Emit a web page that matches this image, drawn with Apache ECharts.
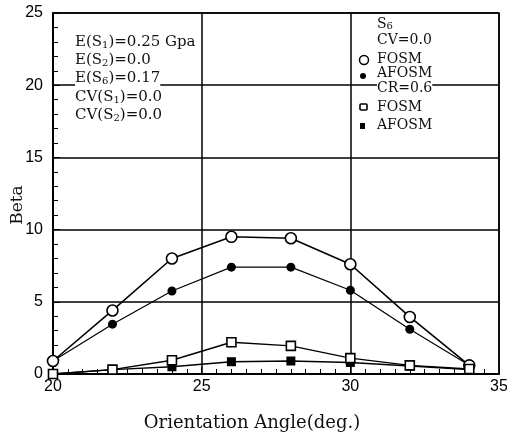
<!DOCTYPE html>
<html><head><meta charset="utf-8">
<script src="https://cdn.jsdelivr.net/npm/echarts@6/dist/echarts.min.js"></script>
<style>html,body{margin:0;padding:0;background:#fff}#c{width:507px;height:435px}</style>
</head><body><div id="c"></div>
<script>
const angles = [20, 22, 24, 26, 28, 30, 32, 34];
const fosmCV0 = [0.9, 4.4, 8.0, 9.5, 9.4, 7.6, 3.95, 0.6];
const afosmCV0 = [0.9, 3.45, 5.75, 7.4, 7.4, 5.8, 3.1, 0.6];
const fosmCR06 = [0.0, 0.3, 0.95, 2.2, 1.95, 1.1, 0.6, 0.35];
const afosmCR06 = [0.0, 0.3, 0.5, 0.85, 0.9, 0.8, 0.55, 0.3];
const xTicks = [20, 25, 30, 35];
const yTicks = [0, 5, 10, 15, 20, 25];

const serif = '"DejaVu Serif","Liberation Serif",serif';
const sans = '"Liberation Sans","DejaVu Sans",sans-serif';
const pair = vals => angles.map((a, i) => [a, vals[i]]);

function mk(name, vals, symbol, size, filled, lw) {
  return {
    name, type: 'line', data: pair(vals), symbol, symbolSize: size,
    lineStyle: { color: '#000', width: lw },
    itemStyle: { color: filled ? '#000' : '#fff', borderColor: '#000', borderWidth: filled ? 0 : 1.6 },
    z: filled ? 3 : 4, animation: false
  };
}

const rich = {
  sub: { fontFamily: serif, fontSize: 10, verticalAlign: 'bottom', padding: [6, 0, 0, 0], lineHeight: 14 }
};
function txt(x, y, s, fs) {
  return { type: 'text', left: x, top: y, z: 100,
    style: { text: s, fontFamily: serif, fontSize: fs || 14, fill: '#111', backgroundColor: '#fff', rich: rich } };
}

const chart = echarts.init(document.getElementById('c'));
chart.setOption({
  animation: false,
  backgroundColor: '#fff',
  grid: { left: 53, right: 8, top: 13, bottom: 61, containLabel: false, outerBoundsMode: 'none',
    show: true, borderColor: '#000', borderWidth: 1.5 },
  xAxis: {
    type: 'value', min: xTicks[0], max: xTicks[xTicks.length - 1], interval: 5,
    axisLine: { lineStyle: { color: '#000', width: 2 } },
    axisTick: { show: true, inside: true, length: 7, lineStyle: { color: '#000' } },
    minorTick: { show: true, splitNumber: 10, length: 5, lineStyle: { color: '#000' } },
    splitLine: { show: true, lineStyle: { color: '#000', width: 1.5 } },
    axisLabel: { color: '#000', fontFamily: sans, fontSize: 16, margin: 5 },
    name: 'Orientation Angle(deg.)', nameLocation: 'middle', nameGap: 40,
    nameTextStyle: { fontFamily: serif, fontSize: 18, color: '#111', padding: [0, 48, 0, 0] }
  },
  yAxis: {
    type: 'value', min: yTicks[0], max: yTicks[yTicks.length - 1], interval: 5,
    axisLine: { show: true, lineStyle: { color: '#000', width: 2 } },
    axisTick: { show: true, inside: true, length: 7, lineStyle: { color: '#000' } },
    minorTick: { show: true, splitNumber: 5, length: 5, lineStyle: { color: '#000' } },
    splitLine: { show: true, lineStyle: { color: '#000', width: 1.5 } },
    axisLabel: { color: '#000', fontFamily: sans, fontSize: 16, margin: 10 }
  },
  series: [
    mk('FOSM CV=0.0', fosmCV0, 'circle', 11, false, 1.6),
    mk('AFOSM CV=0.0', afosmCV0, 'circle', 9, true, 1.2),
    mk('FOSM CR=0.6', fosmCR06, 'rect', 9, false, 1.4),
    mk('AFOSM CR=0.6', afosmCR06, 'rect', 9, true, 1.4)
  ],
  graphic: [
    { type: 'text', x: 18, y: 205, rotation: Math.PI / 2, z: 100,
      style: { text: 'Beta', fontFamily: serif, fontSize: 17, fill: '#111', align: 'center', verticalAlign: 'middle' } },
    txt(75, 34, 'E(S{sub|1})=0.25 Gpa', 15),
    txt(75, 52, 'E(S{sub|2})=0.0', 15),
    txt(75, 70, 'E(S{sub|6})=0.17', 15),
    txt(75, 89, 'CV(S{sub|1})=0.0', 15),
    txt(75, 107, 'CV(S{sub|2})=0.0', 15),
    txt(377, 15, 'S{sub|6}'),
    txt(377, 33, 'CV=0.0'),
    txt(377, 52, 'FOSM'),
    txt(377, 66, 'AFOSM'),
    txt(377, 81, 'CR=0.6'),
    txt(377, 100, 'FOSM'),
    txt(377, 118, 'AFOSM'),
    { type: 'circle', z: 101, shape: { cx: 364, cy: 60, r: 4.5 }, style: { fill: '#fff', stroke: '#000', lineWidth: 1.5 } },
    { type: 'circle', z: 101, shape: { cx: 363, cy: 76, r: 3 }, style: { fill: '#000' } },
    { type: 'rect', z: 101, shape: { x: 360, y: 104, width: 7, height: 6, r: 1 }, style: { fill: '#fff', stroke: '#000', lineWidth: 1.6 } },
    { type: 'rect', z: 101, shape: { x: 360, y: 123, width: 5, height: 6 }, style: { fill: '#000' } }
  ]
});
</script></body></html>
